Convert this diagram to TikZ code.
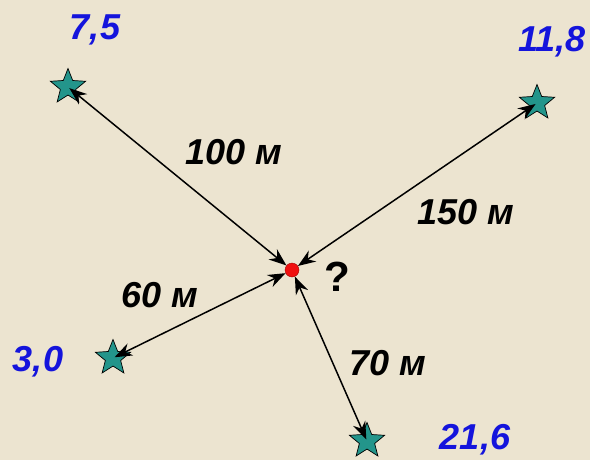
\documentclass[tikz,border=0pt]{standalone}
\usepackage{fontspec}
\setmainfont{Liberation Sans}
\usepackage{xcolor}
\usetikzlibrary{arrows.meta,shapes.geometric}
\definecolor{paper}{HTML}{ECE4D0}
\definecolor{teal}{HTML}{23958B}
\definecolor{ink}{HTML}{1414DC}
\definecolor{dot}{HTML}{F01010}

\begin{document}
\begin{tikzpicture}[x=0.02cm, y=-0.02cm,
  pt/.style={star, star points=5, star point ratio=2.3, draw=black, thin,
             fill=teal, minimum size=0.74cm, inner sep=0pt},
  val/.style={font=\fontsize{20.5}{22}\selectfont\bfseries\itshape, text=ink},
  dist/.style={font=\fontsize{20.5}{22}\selectfont\bfseries\itshape, text=black},
  arr/.style={{Stealth[length=10pt,width=7.5pt]}-{Stealth[length=10pt,width=7.5pt]},
              line width=0.85pt, shorten <=1pt},
]
  \fill[paper] (0,0) rectangle (590,460);
  \useasboundingbox (0,0) rectangle (590,460);
  % wells and target point
  \node[pt](a) at (68,87){}; \node[pt](b) at (537,103){};
  \node[pt](c) at (113,358){}; \node[pt](d) at (367,441){};
  \node[circle, fill=dot, draw=red!60!black, very thin, minimum size=0.28cm,
        inner sep=0pt](p) at (292,270){};
  \node[font=\fontsize{24}{26}\selectfont\bfseries](q) at (337,277){?};
  % known values
  \node[val](va) at (95,30){7,5}; \node[val](vb) at (552,42){11,8};
  \node[val](vc) at (38,362){3,0}; \node[val](vd) at (475,440){21,6};
  % distances
  \draw[arr](a.center)--(p); \draw[arr](b.center)--(p);
  \draw[arr](c.center)--(p); \draw[arr](d.center)--(p);
  \node[dist](da) at (234,152){100 м}; \node[dist](db) at (466,212){150 м};
  \node[dist](dc) at (160,295){60 м}; \node[dist](dd) at (388,363){70 м};
\end{tikzpicture}
\end{document}
